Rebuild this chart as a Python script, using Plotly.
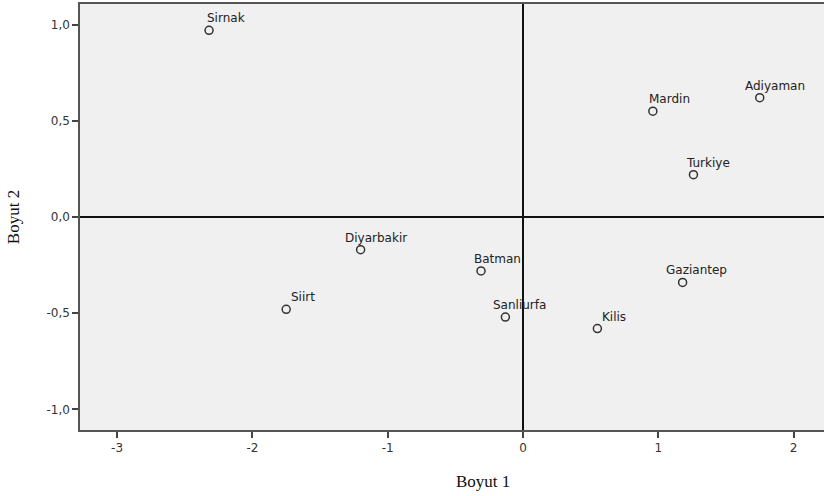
import plotly.graph_objects as go

# Two-dimensional solution coordinates for each province
provinces = ["Sirnak", "Mardin", "Adiyaman", "Turkiye", "Diyarbakir", "Batman",
             "Sanliurfa", "Kilis", "Gaziantep", "Siirt"]
dim1 = [-2.32, 0.96, 1.75, 1.26, -1.20, -0.31, -0.13, 0.55, 1.18, -1.75]
dim2 = [0.97, 0.55, 0.62, 0.22, -0.17, -0.28, -0.52, -0.58, -0.34, -0.48]

x_ticks = [-3, -2, -1, 0, 1, 2]
y_ticks = [-1.0, -0.5, 0.0, 0.5, 1.0]

# Horizontal label offsets (px, from marker centre to label start)
label_dx = [-3, -5, -16, -8, -17, -8, -13, 4, -18, 4]


def fmt_tick(v, decimals):
    return f"{v:.{decimals}f}".replace(".", ",")


fig = go.Figure()
fig.add_trace(go.Scatter(
    x=dim1, y=dim2, mode="markers",
    marker=dict(symbol="circle-open", size=8, color="#333333", line=dict(width=1.5)),
    hoverinfo="text", text=provinces, showlegend=False,
))

label_font = dict(family="DejaVu Sans", size=12, color="#222222")
for name, xv, yv, dx in zip(provinces, dim1, dim2, label_dx):
    fig.add_annotation(
        x=xv, y=yv, text=name, showarrow=False,
        xanchor="left", yanchor="bottom", xshift=dx, yshift=4,
        font=label_font, borderpad=0,
    )

axis_font = dict(family="DejaVu Sans", size=12, color="#333333")

fig.update_layout(
    width=824, height=496,
    margin=dict(l=80, r=0, t=4, b=66),
    paper_bgcolor="white", plot_bgcolor="#f0f0f0",
    xaxis=dict(
        range=[-3.274, 2.225], tickvals=x_ticks,
        ticktext=[fmt_tick(v, 0) for v in x_ticks],
        ticks="outside", ticklen=6, tickwidth=1.5, tickcolor="#444",
        showline=True, linecolor="#555", linewidth=1.5, mirror=True,
        showgrid=False, zeroline=True, zerolinecolor="#111", zerolinewidth=1.5,
        tickfont=axis_font,
    ),
    yaxis=dict(
        range=[-1.107, 1.107], tickvals=y_ticks,
        ticktext=[fmt_tick(v, 1) for v in y_ticks],
        ticks="outside", ticklen=6, tickwidth=1.5, tickcolor="#444",
        showline=True, linecolor="#555", linewidth=1.5, mirror=False,
        showgrid=False, zeroline=True, zerolinecolor="#111", zerolinewidth=1.5,
        tickfont=axis_font,
        title=dict(text="Boyut 2", standoff=22,
                   font=dict(family="Liberation Serif, Times New Roman", size=17, color="#111")),
    ),
)

fig.add_annotation(
    xref="paper", yref="paper", x=0.542, y=-0.094, yanchor="top",
    text="Boyut 1", showarrow=False,
    font=dict(family="Liberation Serif, Times New Roman", size=17, color="#111"),
)

fig.write_html("out.html")
